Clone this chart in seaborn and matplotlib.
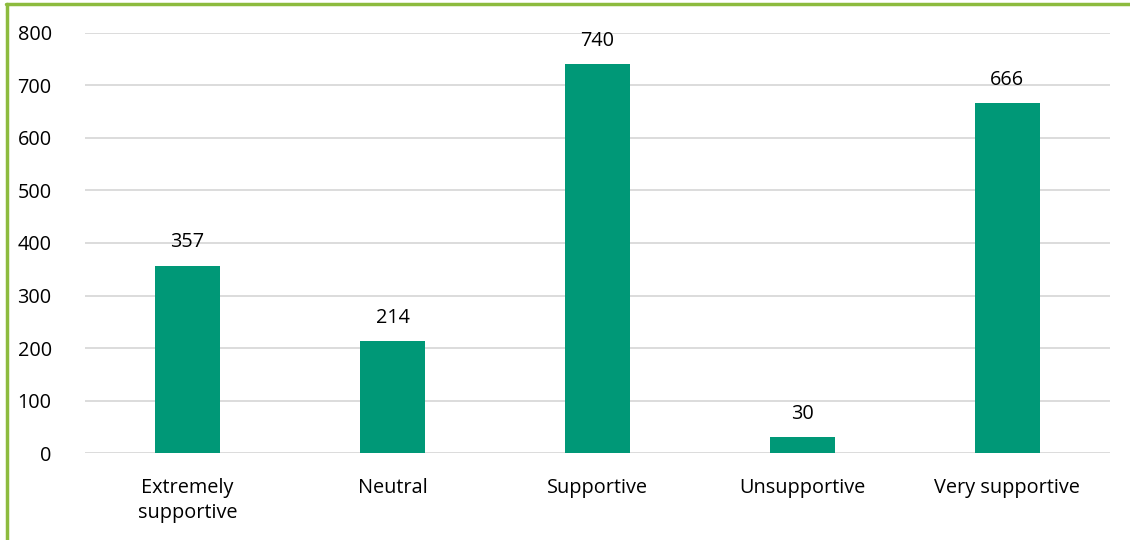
import matplotlib
matplotlib.use("Agg")
import matplotlib.pyplot as plt
import seaborn as sns
import pandas as pd
from matplotlib.lines import Line2D

categories = ["Extremely\nsupportive", "Neutral", "Supportive", "Unsupportive", "Very supportive"]
counts = [357, 214, 740, 30, 666]

bar_color = "#009877"
border_color = "#8DBB3E"
grid_color = "#D9D9D9"

sns.set_theme(style="white")
plt.rcParams['font.family'] = ['Open Sans', 'DejaVu Sans']

df = pd.DataFrame({"answer": categories, "count": counts})

fig = plt.figure(figsize=(11.3, 5.4), dpi=100)
ax = fig.add_axes([0.0752, 0.161, 0.907, 0.778])

sns.barplot(data=df, x="answer", y="count", color=bar_color, width=0.315,
            saturation=1, linewidth=0, ax=ax, zorder=3)

ax.set_ylim(0, 800)
ax.set_yticks(range(0, 801, 100))
ax.yaxis.grid(True, color=grid_color, linewidth=1.3, zorder=0)
ax.set_axisbelow(True)
for s in ax.spines.values():
    s.set_visible(False)
ax.tick_params(axis="both", length=0, labelsize=14.3, colors="#000000")
ax.tick_params(axis="y", pad=24)
ax.tick_params(axis="x", pad=18)
for lbl in ax.get_xticklabels():
    lbl.set_linespacing(1.3)
ax.set_xlabel("")
ax.set_ylabel("")

for i, v in enumerate(counts):
    ax.text(i, v + 25, str(v), ha="center", va="bottom", fontsize=14.3, color="#000000")

# outer frame (only top and left visible in the crop)
fig.add_artist(Line2D([0.0055, 1.0], [0.9935, 0.9935], color=border_color, lw=2.5,
                      transform=fig.transFigure))
fig.add_artist(Line2D([0.0065, 0.0065], [0.0, 0.9935], color=border_color, lw=2.5,
                      transform=fig.transFigure))

fig.savefig("out.png", dpi=100)
